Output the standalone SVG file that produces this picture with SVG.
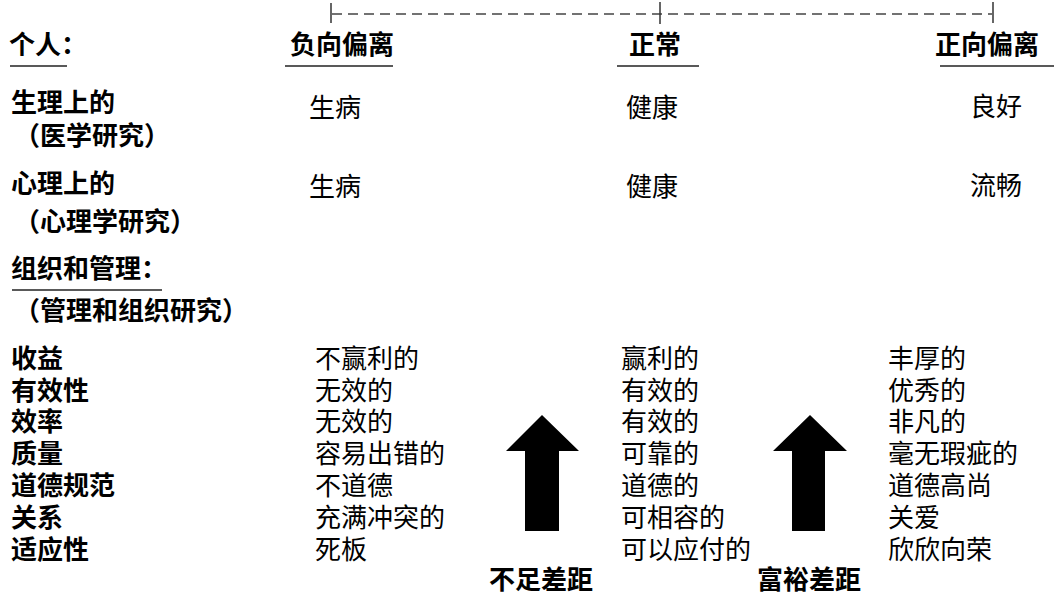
<svg xmlns="http://www.w3.org/2000/svg" width="1054" height="596" viewBox="0 0 1054 596">
<style>
  .lbl { font-family: "Noto Sans CJK SC", "Liberation Sans", sans-serif; font-weight: 700; font-size: 26px; fill: #000; }
  .val { font-family: "Noto Sans CJK SC", "Liberation Serif", sans-serif; font-weight: 400; font-size: 26px; fill: #000; }
  .uline { stroke: #222; stroke-width: 1.5; fill: none; }
  .tick { stroke: #333; stroke-width: 1.5; fill: none; }
  .dash { stroke: #444; stroke-width: 1.5; stroke-dasharray: 10 6; fill: none; }
  .arrow { fill: #000; stroke: none; }
</style>
<rect width="1054" height="596" fill="#fff"/>

<g id="scale">
  <line class="dash" x1="332" y1="14" x2="992" y2="14"/>
  <line class="tick" x1="331" y1="3" x2="331" y2="23"/>
  <line class="tick" x1="660" y1="2" x2="660" y2="24"/>
  <line class="tick" x1="993" y1="2" x2="993" y2="23"/>
</g>

<g id="header-individual">
  <text class="lbl" x="9" y="54">个人：</text>
  <line class="uline" x1="10" y1="66" x2="67" y2="66"/>
</g>
<g id="header-negative">
  <text class="lbl" x="290" y="54">负向偏离</text>
  <line class="uline" x1="285" y1="66" x2="393" y2="66"/>
</g>
<g id="header-normal">
  <text class="lbl" x="629" y="54">正常</text>
  <line class="uline" x1="617" y1="66" x2="699" y2="66"/>
</g>
<g id="header-positive">
  <text class="lbl" x="935" y="54">正向偏离</text>
  <line class="uline" x1="940" y1="66" x2="1054" y2="66"/>
</g>

<g id="row-physiological">
  <text class="lbl" x="11" y="112">生理上的</text>
  <text class="lbl" x="14" y="145">（医学研究）</text>
  <text class="val" x="309" y="117">生病</text>
  <text class="val" x="626" y="117">健康</text>
  <text class="val" x="970" y="116">良好</text>
</g>

<g id="row-psychological">
  <text class="lbl" x="11" y="193">心理上的</text>
  <text class="lbl" x="14" y="231">（心理学研究）</text>
  <text class="val" x="309" y="196">生病</text>
  <text class="val" x="626" y="196">健康</text>
  <text class="val" x="970" y="195">流畅</text>
</g>

<g id="header-organization">
  <text class="lbl" x="11" y="278">组织和管理：</text>
  <line class="uline" x1="12" y1="290" x2="162" y2="290"/>
  <text class="lbl" x="14" y="320">（管理和组织研究）</text>
</g>

<g id="org-labels">
  <text class="lbl" x="11" y="368">收益</text>
  <text class="lbl" x="11" y="400">有效性</text>
  <text class="lbl" x="11" y="431">效率</text>
  <text class="lbl" x="11" y="463">质量</text>
  <text class="lbl" x="11" y="495">道德规范</text>
  <text class="lbl" x="11" y="527">关系</text>
  <text class="lbl" x="11" y="559">适应性</text>
</g>

<g id="org-negative">
  <text class="val" x="315" y="368">不赢利的</text>
  <text class="val" x="315" y="400">无效的</text>
  <text class="val" x="315" y="431">无效的</text>
  <text class="val" x="315" y="463">容易出错的</text>
  <text class="val" x="315" y="495">不道德</text>
  <text class="val" x="315" y="527">充满冲突的</text>
  <text class="val" x="315" y="559">死板</text>
</g>

<g id="org-normal">
  <text class="val" x="621" y="368">赢利的</text>
  <text class="val" x="621" y="400">有效的</text>
  <text class="val" x="621" y="431">有效的</text>
  <text class="val" x="621" y="463">可靠的</text>
  <text class="val" x="621" y="495">道德的</text>
  <text class="val" x="621" y="527">可相容的</text>
  <text class="val" x="621" y="559">可以应付的</text>
</g>

<g id="org-positive">
  <text class="val" x="888" y="368">丰厚的</text>
  <text class="val" x="888" y="400">优秀的</text>
  <text class="val" x="888" y="431">非凡的</text>
  <text class="val" x="888" y="463">毫无瑕疵的</text>
  <text class="val" x="888" y="495">道德高尚</text>
  <text class="val" x="888" y="527">关爱</text>
  <text class="val" x="888" y="559">欣欣向荣</text>
</g>

<g id="connectors">
  <polygon class="arrow" points="542,415 579,451 559,451 559,531 525,531 525,451 506,451"/>
  <polygon class="arrow" points="810,415 847,451 825,451 825,531 792,531 792,451 773,451"/>
</g>

<g id="gap-labels">
  <text class="lbl" x="489" y="589">不足差距</text>
  <text class="lbl" x="757" y="589">富裕差距</text>
</g>
</svg>
